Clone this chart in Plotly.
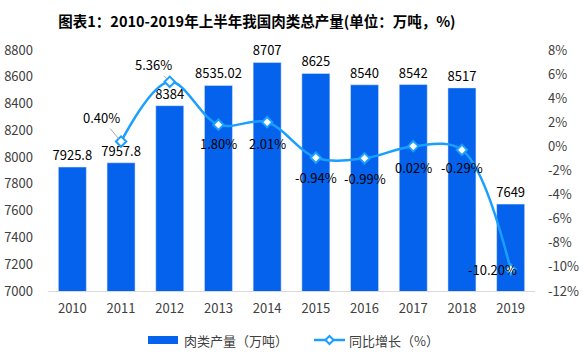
import plotly.graph_objects as go

years = ["2010", "2011", "2012", "2013", "2014", "2015", "2016", "2017", "2018", "2019"]
production = [7925.8, 7957.8, 8384, 8535.02, 8707, 8625, 8540, 8542, 8517, 7649]
prod_labels = ["7925.8", "7957.8", "8384", "8535.02", "8707", "8625", "8540", "8542", "8517", "7649"]
growth_years = ["2011", "2012", "2013", "2014", "2015", "2016", "2017", "2018", "2019"]
growth = [0.40, 5.36, 1.80, 2.01, -0.94, -0.99, 0.02, -0.29, -10.20]
growth_labels = ["0.40%", "5.36%", "1.80%", "2.01%", "-0.94%", "-0.99%", "0.02%", "-0.29%", "-10.20%"]
left_ticks = [7000, 7200, 7400, 7600, 7800, 8000, 8200, 8400, 8600, 8800]
right_ticks = [-12, -10, -8, -6, -4, -2, 0, 2, 4, 6, 8]
right_tick_text = [f"{v}%" for v in right_ticks]
legend_names = ["肉类产量（万吨）", "同比增长（%）"]

FONT = "Noto Sans CJK SC, Microsoft YaHei, sans-serif"
BAR_COLOR = "#0562EC"
LINE_COLOR = "#1A9FFF"

W, H = 584, 358
ML, MR, MT, MB = 48, 49, 50, 67
PW, PH = W - ML - MR, H - MT - MB


def px(xp):
    return (xp - ML) / PW


def py(yp):
    return (H - MB - yp) / PH


fig = go.Figure()
fig.add_trace(go.Bar(
    x=years, y=production, name=legend_names[0],
    marker=dict(color=BAR_COLOR), width=0.575,
    text=prod_labels, textposition="outside", cliponaxis=False, constraintext="none",
    textfont=dict(size=13, color="#000000", family=FONT),
))
fig.add_trace(go.Scatter(
    x=growth_years, y=growth, name=legend_names[1], yaxis="y2",
    mode="lines+markers",
    line=dict(color=LINE_COLOR, width=2.5, shape="spline", smoothing=1.0),
    marker=dict(symbol="diamond", size=8, color="white", line=dict(color=LINE_COLOR, width=2)),
))

# percent labels: (xshift, yshift, arrow)
offsets = [(-14, 24, True), (-10, 17, True), (0, -19, False), (0, -21, False),
           (0, -20, False), (0, -20, False), (0, -21, False), (0, -18, False), (-16, 0, False)]
for yr, g, lab, (dx, dy, arrow) in zip(growth_years, growth, growth_labels, offsets):
    xi = years.index(yr)
    if arrow:
        fig.add_annotation(x=xi, y=g, xref="x", yref="y2", text=lab, showarrow=True,
                           arrowhead=0, arrowwidth=1, arrowcolor="#A6A6A6",
                           ax=dx - 6, ay=-dy, standoff=4,
                           font=dict(size=13, color="#000000", family=FONT))
    elif dx != 0:
        fig.add_annotation(x=xi, y=g, xref="x", yref="y2", text=lab, showarrow=False,
                           xanchor="right", xshift=dx + 24,
                           font=dict(size=13, color="#000000", family=FONT))
    else:
        fig.add_annotation(x=xi, y=g, xref="x", yref="y2", text=lab, showarrow=False,
                           yshift=dy, font=dict(size=13, color="#000000", family=FONT))

# custom legend
fig.add_shape(type="rect", xref="paper", yref="paper",
              x0=px(148), x1=px(178), y0=py(344), y1=py(336),
              fillcolor=BAR_COLOR, line=dict(width=0))
fig.add_annotation(xref="paper", yref="paper", x=px(182), y=py(340), xanchor="left",
                   yanchor="middle", text=legend_names[0], showarrow=False,
                   font=dict(size=13, color="#404040", family=FONT))
fig.add_shape(type="line", xref="paper", yref="paper",
              x0=px(314), x1=px(345), y0=py(340), y1=py(340),
              line=dict(color=LINE_COLOR, width=2.5))
cx, cy, r = 329.5, 340, 4
fig.add_shape(type="path", xref="paper", yref="paper",
              path=(f"M {px(cx - r)} {py(cy)} L {px(cx)} {py(cy - r)} "
                    f"L {px(cx + r)} {py(cy)} L {px(cx)} {py(cy + r)} Z"),
              fillcolor="white", line=dict(color=LINE_COLOR, width=2))
fig.add_annotation(xref="paper", yref="paper", x=px(347), y=py(340), xanchor="left",
                   yanchor="middle", text=legend_names[1], showarrow=False,
                   font=dict(size=13, color="#404040", family=FONT))

fig.update_layout(
    width=W, height=H,
    margin=dict(l=ML, r=MR, t=MT, b=MB, autoexpand=False),
    paper_bgcolor="white", plot_bgcolor="white",
    font=dict(family=FONT, size=13, color="#404040"),
    title=dict(text="<b>图表1：2010-2019年上半年我国肉类总产量(单位：万吨，%)</b>",
               x=0.44, xanchor="center", y=0.938, yanchor="middle", automargin=False,
               font=dict(size=14.5, color="#000000", family=FONT)),
    bargap=0.4,
    showlegend=False,
    xaxis=dict(type="category", range=[-0.5, 9.5], showgrid=False, showline=True,
               linecolor="#D9D9D9", linewidth=1, ticks="", automargin=False,
               ticklabelstandoff=5, tickfont=dict(size=13, color="#404040")),
    yaxis=dict(range=[7000, 8800], tickvals=left_ticks, showgrid=False, zeroline=False,
               showline=False, ticklabelstandoff=14, automargin=False,
               tickfont=dict(size=13, color="#404040")),
    yaxis2=dict(range=[-12, 8], tickvals=right_ticks, ticktext=right_tick_text,
                overlaying="y", side="right", showgrid=False, zeroline=False, automargin=False,
                showline=False, ticklabelstandoff=12, tickfont=dict(size=13, color="#404040")),
)

fig.write_html("out.html", config={"displayModeBar": False},
               post_script="document.body.style.margin='0';")
